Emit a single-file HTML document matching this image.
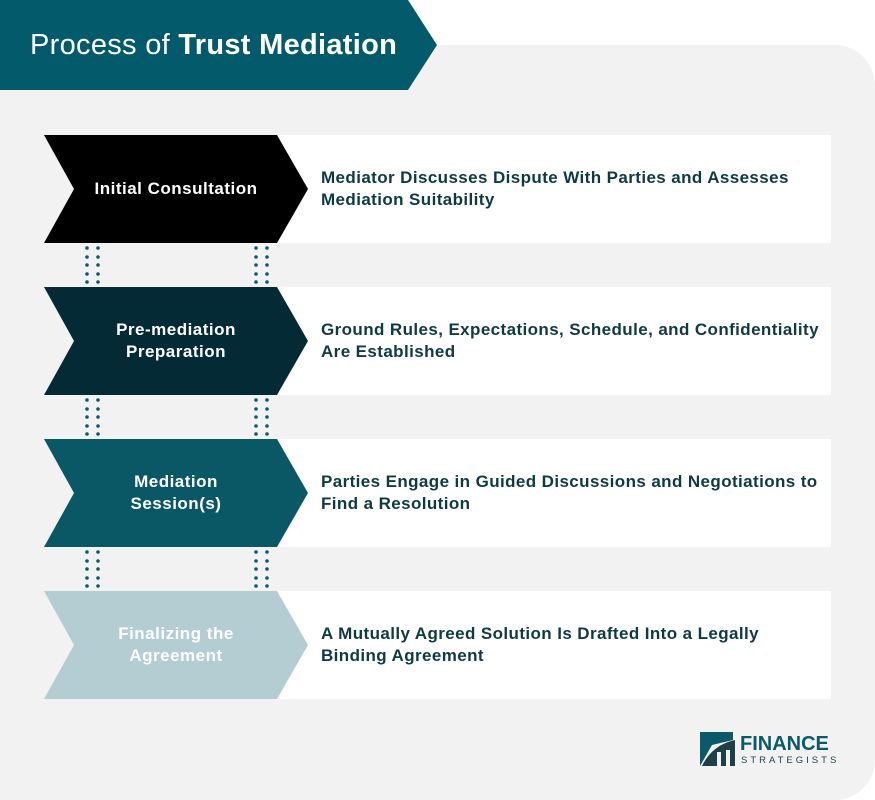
<!DOCTYPE html>
<html><head><style>
body{margin:0;width:875px;height:800px;background:#fff;position:relative;overflow:hidden;font-family:"Liberation Sans",sans-serif}
.bg{position:absolute;left:0;top:45px;width:875px;height:755px;background:#f2f2f2;border-radius:0 40px 40px 0}
.t{position:absolute;font-weight:bold;font-size:17px;line-height:22px}
.lab{color:#fff;text-align:center;width:240px;left:56px;letter-spacing:0.5px}
.desc{color:#0e3a44;left:321px;letter-spacing:0.4px;white-space:nowrap}
</style></head><body>
<div class="bg"></div>
<svg width="875" height="800" style="position:absolute;left:0;top:0">
<polygon points="0,0 408,0 437,45 408,90 0,90" fill="#035a6a"/>
<g>
<rect x="277" y="135" width="554" height="108" fill="#fff"/>
<rect x="277" y="287" width="554" height="108" fill="#fff"/>
<rect x="277" y="439" width="554" height="108" fill="#fff"/>
<rect x="277" y="591" width="554" height="108" fill="#fff"/>
<polygon points="44,135 277,135 308,189 277,243 44,243 74,189" fill="#000"/>
<polygon points="44,287 277,287 308,341 277,395 44,395 74,341" fill="#032a35"/>
<polygon points="44,439 277,439 308,493 277,547 44,547 74,493" fill="#0a5766"/>
<polygon points="44,591 277,591 308,645 277,699 44,699 74,645" fill="#b3cdd2"/>
</g>
<g fill="#0a5a6a" id="d">
<circle cx="87" cy="248" r="1.8"/><circle cx="98" cy="248" r="1.8"/><circle cx="87" cy="257" r="1.8"/><circle cx="98" cy="257" r="1.8"/><circle cx="87" cy="265" r="1.8"/><circle cx="98" cy="265" r="1.8"/><circle cx="87" cy="274" r="1.8"/><circle cx="98" cy="274" r="1.8"/><circle cx="87" cy="282" r="1.8"/><circle cx="98" cy="282" r="1.8"/>
<circle cx="256" cy="248" r="1.8"/><circle cx="267" cy="248" r="1.8"/><circle cx="256" cy="257" r="1.8"/><circle cx="267" cy="257" r="1.8"/><circle cx="256" cy="265" r="1.8"/><circle cx="267" cy="265" r="1.8"/><circle cx="256" cy="274" r="1.8"/><circle cx="267" cy="274" r="1.8"/><circle cx="256" cy="282" r="1.8"/><circle cx="267" cy="282" r="1.8"/>
</g>
<use href="#d" y="152"/><use href="#d" y="304"/>
<polygon points="700,732 733,732 733,740 712,745 700,766" fill="#0a5a6a"/>
<path d="M702,766 Q712,745 735,740 L735,766 L730,766 L730,750 L726,750 L726,766 L721,766 L721,752 L717,752 L717,766 Z" fill="#1f3f47"/>
</svg>
<div style="position:absolute;left:30px;top:27px;color:#fff;font-size:29px;line-height:36px;letter-spacing:0.3px">Process of <b>Trust Mediation</b></div>
<div class="t lab" style="top:178px">Initial Consultation</div>
<div class="t lab" style="top:319px">Pre-mediation<br>Preparation</div>
<div class="t lab" style="top:471px">Mediation<br>Session(s)</div>
<div class="t lab" style="top:623px">Finalizing the<br>Agreement</div>
<div class="t desc" style="top:167px">Mediator Discusses Dispute With Parties and Assesses<br>Mediation Suitability</div>
<div class="t desc" style="top:319px">Ground Rules, Expectations, Schedule, and Confidentiality<br>Are Established</div>
<div class="t desc" style="top:471px">Parties Engage in Guided Discussions and Negotiations to<br>Find a Resolution</div>
<div class="t desc" style="top:623px">A Mutually Agreed Solution Is Drafted Into a Legally<br>Binding Agreement</div>
<div style="position:absolute;left:740px;top:733px;color:#0a5a6a;font-weight:bold;font-size:20px;line-height:22px">FINANCE</div>
<div style="position:absolute;left:741px;top:755px;color:#1f3f47;font-size:9.5px;letter-spacing:3px">STRATEGISTS</div>
</body></html>
